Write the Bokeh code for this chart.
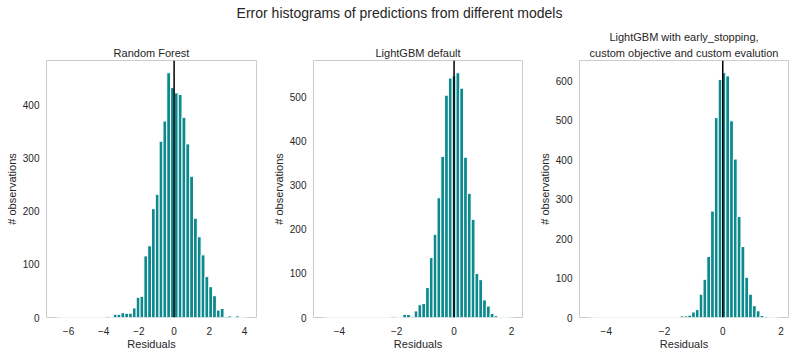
from bokeh.plotting import figure
from bokeh.layouts import column, row
from bokeh.models import Range1d, Span, Label, Title, FixedTicker, CustomJSTickFormatter
from bokeh.embed import file_html
from bokeh.resources import INLINE

# ---------------- data ----------------
suptitle = "Error histograms of predictions from different models"
panel_titles = [
    ["Random Forest"],
    ["LightGBM default"],
    ["LightGBM with early_stopping,", "custom objective and custom evalution"],
]
x_label = "Residuals"
y_label = "# observations"

# histogram bins: first edge, bin width, counts (50 bins each)
rf_start, rf_width = -6.71, 0.217
rf_counts = [1, 0, 0, 0, 0, 0, 0, 0, 0, 0,
             0, 0, 0, 2, 0, 6, 6, 9, 8, 8,
             18, 38, 40, 116, 135, 205, 232, 332, 370, 461,
             433, 423, 420, 377, 327, 266, 187, 152, 118, 77,
             58, 41, 14, 17, 2, 3, 0, 3, 0, 1]

lgb_start, lgb_width = -4.57, 0.1325
lgb_counts = [1, 0, 0, 0, 0, 0, 0, 0, 0, 0,
              0, 0, 0, 0, 0, 0, 0, 0, 2, 0,
              0, 7, 7, 2, 15, 29, 32, 68, 136, 189,
              272, 366, 505, 544, 549, 556, 521, 364, 282, 223,
              100, 86, 40, 26, 9, 4, 0, 0, 0, 1]

lgbc_start, lgbc_width = -4.594, 0.1305
lgbc_counts = [1, 0, 0, 0, 0, 0, 0, 0, 0, 0,
               0, 0, 0, 0, 0, 0, 0, 0, 0, 0,
               0, 0, 0, 0, 4, 4, 6, 14, 20, 59,
               97, 155, 270, 507, 604, 621, 613, 499, 402, 256,
               180, 102, 59, 30, 17, 5, 2, 0, 0, 1]

x_ticks = [[-6, -4, -2, 0, 2, 4], [-4, -2, 0, 2], [-4, -2, 0, 2]]
y_ticks = [[0, 100, 200, 300, 400], [0, 100, 200, 300, 400, 500],
           [0, 100, 200, 300, 400, 500, 600]]

# ---------------- style ----------------
FONT = "Liberation Sans"
TXT = "#262626"
BAR = "#0e8a8e"
EDGE = "#cccccc"

fmt_x = CustomJSTickFormatter(code="return (tick < 0 ? '\\u2212' : '') + Math.abs(tick).toFixed(0);")


def make_panel(start, width, counts, titles, xt, yt, w, border_left):
    n = len(counts)
    left = [start + i * width for i in range(n)]
    right = [start + (i + 1) * width for i in range(n)]
    lo, hi = left[0], right[-1]
    pad = 0.05 * (hi - lo)
    ymax = max(counts) * 1.05
    p = figure(width=w, height=325, output_backend="svg", toolbar_location=None,
               x_range=Range1d(lo - pad, hi + pad), y_range=Range1d(0, ymax),
               min_border_left=border_left, min_border_right=4,
               min_border_top=31, min_border_bottom=36)
    p.title.text = titles[0]
    p.title.align = "center"
    p.title.text_font = FONT
    p.title.text_font_size = "11px"
    p.title.text_font_style = "normal"
    p.title.text_color = TXT
    p.title.standoff = 4 if len(titles) == 1 else 0
    if len(titles) > 1:
        t2 = Title(text=titles[1], align="center", text_font=FONT, text_font_size="11px",
                   text_font_style="normal", text_color=TXT, standoff=4)
        p.add_layout(t2, "above")
    p.quad(left=left, right=right, top=counts, bottom=0,
           fill_color=BAR, line_color="white", line_width=1)
    p.add_layout(Span(location=0, dimension="height", line_color="black", line_width=1.5))
    p.xgrid.visible = False
    p.ygrid.visible = False
    p.outline_line_color = EDGE
    p.outline_line_width = 1
    p.background_fill_color = "white"
    p.border_fill_color = "white"
    for ax in (p.xaxis[0], p.yaxis[0]):
        ax.axis_line_color = None
        ax.major_tick_line_color = None
        ax.minor_tick_line_color = None
        ax.major_tick_out = 0
        ax.major_tick_in = 0
        ax.minor_tick_out = 0
        ax.minor_tick_in = 0
        ax.major_label_text_font = FONT
        ax.major_label_text_font_size = "10px"
        ax.major_label_text_color = TXT
        ax.axis_label_text_font = FONT
        ax.axis_label_text_font_size = "11px"
        ax.axis_label_text_font_style = "normal"
        ax.axis_label_text_color = TXT
    p.xaxis.ticker = FixedTicker(ticks=xt)
    p.xaxis.formatter = fmt_x
    p.yaxis.ticker = FixedTicker(ticks=yt)
    p.xaxis.axis_label = x_label
    p.yaxis.axis_label = y_label
    p.xaxis.major_label_standoff = 9
    p.xaxis.axis_label_standoff = 0
    p.yaxis.major_label_standoff = 7
    p.yaxis.axis_label_standoff = 2
    return p


p1 = make_panel(rf_start, rf_width, rf_counts, panel_titles[0], x_ticks[0], y_ticks[0], 260, 46)
p2 = make_panel(lgb_start, lgb_width, lgb_counts, panel_titles[1], x_ticks[1], y_ticks[1], 266, 53)
p3 = make_panel(lgbc_start, lgbc_width, lgbc_counts, panel_titles[2], x_ticks[2], y_ticks[2], 266, 53)

# super title
pt = figure(width=792, height=28, output_backend="svg", toolbar_location=None,
            x_range=Range1d(0, 1), y_range=Range1d(0, 1),
            x_axis_type=None, y_axis_type=None,
            min_border_left=0, min_border_right=0, min_border_top=0, min_border_bottom=0)
pt.outline_line_color = None
pt.xgrid.visible = False
pt.ygrid.visible = False
pt.add_layout(Label(x=399, y=16, x_units="screen", y_units="screen", text=suptitle,
                    text_align="center", text_baseline="middle", text_font=FONT,
                    text_font_size="14px", text_color=TXT))

layout = column(pt, row(p1, p2, p3, spacing=0), spacing=0)

open("out.html", "w").write(file_html(layout, INLINE))
